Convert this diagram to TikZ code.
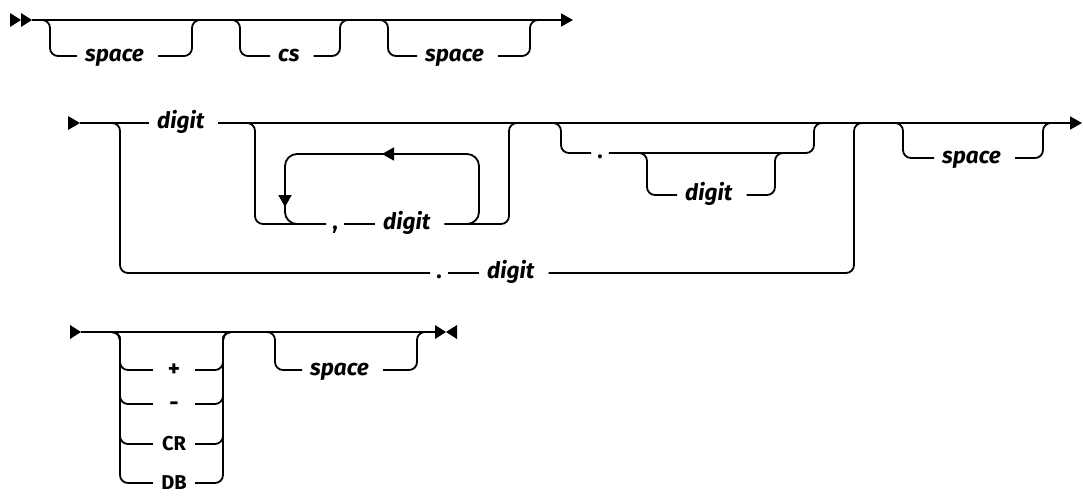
\documentclass[tikz,border=0pt]{standalone}
\usepackage{fontspec}
\setmainfont{Fira Sans}
\usetikzlibrary{arrows.meta}
\begin{document}
\begin{tikzpicture}[x=1pt,y=-1pt,
  rail/.style={line width=1.8pt, rounded corners=8pt},
  loopline/.style={line width=1.8pt, rounded corners=12pt},
  endtip/.style={-{Triangle[length=12pt,width=13pt]}},
  lbl/.style={font=\fontsize{22.5}{22.5}\selectfont\bfseries\itshape, inner xsep=8pt, inner ysep=0pt,
    text height=11.9pt, text depth=0pt, anchor=west, execute at end node={\hspace{6pt}}},
  punct/.style={font=\fontsize{22.5}{22.5}\selectfont\bfseries, inner xsep=6pt, inner ysep=0pt,
    text height=11.9pt, text depth=0pt},
  kw/.style={font=\fontsize{20}{20}\selectfont\bfseries, inner xsep=0pt, inner ysep=0pt,
    text height=13.8pt, text depth=0pt, minimum width=42pt},
  sym/.style={kw, font=\fontsize{23}{23}\selectfont\bfseries, text height=12pt},
  tipfill/.style={fill=black}
]
\fill[white] (0,0) rectangle (1083,496);
\useasboundingbox (0,0) rectangle (1083,496);

% ---------- Row 1 ----------
\fill[tipfill] (10,13) -- (21,20) -- (10,27) -- cycle;
\fill[tipfill] (21,13) -- (32,20) -- (21,27) -- cycle;
\coordinate (r1s) at (32,20);
\coordinate (r1e) at (573,20);
\draw[rail,endtip] (r1s) -- (r1e);

\node[lbl] (sp1) at (77,56) {space};
\draw[rail] (38,20) -- (50,20) -- (50,56) -- (sp1.west);
\draw[rail] (sp1.east) -- (192,56) -- (192,20) -- (204,20);

\node[lbl] (cs) at (270,56) {cs};
\draw[rail] (228,20) -- (240,20) -- (240,56) -- (cs.west);
\draw[rail] (cs.east) -- (340,56) -- (340,20) -- (352,20);

\node[lbl] (sp3) at (417,56) {space};
\draw[rail] (376,20) -- (388,20) -- (388,56) -- (sp3.west);
\draw[rail] (sp3.east) -- (530,56) -- (530,20) -- (542,20);

% ---------- Row 2 ----------
\fill[tipfill] (68,116) -- (80,123) -- (68,130) -- cycle;
\coordinate (r2s) at (80,123);
\coordinate (r2e) at (1082,123);
\node[lbl] (dg1) at (149,123) {digit};
\draw[rail] (r2s) -- (dg1.west);
\draw[rail,endtip] (dg1.east) -- (r2e);

% big choice, lower path
\node[punct] (dot2) at (439,273) {.};
\node[lbl] (dg5) at (479,273) {digit};
\draw[rail] (108,123) -- (120,123) -- (120,273) -- (dot2.west);
\draw[rail] (dot2.east) -- (dg5.west);
\draw[rail] (dg5.east) -- (854,273) -- (854,123) -- (866,123);

% optional repeat group
\node[punct] (cm) at (335,224) {,};
\node[lbl] (dg2) at (375,224) {digit};
\draw[rail] (243,123) -- (255,123) -- (255,224) -- (cm.west);
\draw[rail] (cm.east) -- (dg2.west);
\draw[rail] (dg2.east) -- (509,224) -- (509,123) -- (521,123);
\draw[loopline] (455,224) -- (479,224) -- (479,154) -- (285,154) -- (285,224) -- (309,224);
\draw[line width=1.8pt,endtip] (420,154) -- (382,154);
\draw[line width=1.8pt,endtip] (285,175) -- (285,207);

% optional decimal group
\node[punct] (dot1) at (600,153) {.};
\draw[rail] (549,123) -- (561,123) -- (561,153) -- (dot1.west);
\draw[rail] (dot1.east) -- (814,153) -- (814,123) -- (826,123);
\node[lbl] (dg4) at (677,195) {digit};
\draw[rail] (635,153) -- (647,153) -- (647,195) -- (dg4.west);
\draw[rail] (dg4.east) -- (775,195) -- (775,153) -- (787,153);

% optional space
\node[lbl] (sp4) at (934,158) {space};
\draw[rail] (891,123) -- (903,123) -- (903,158) -- (sp4.west);
\draw[rail] (sp4.east) -- (1043,158) -- (1043,123) -- (1055,123);

% ---------- Row 3 ----------
\fill[tipfill] (70,325) -- (81,332) -- (70,339) -- cycle;
\coordinate (r3s) at (81,332);
\coordinate (r3e) at (435,332);
\draw[rail] (r3s) -- (r3e);
\fill[tipfill] (435,325) -- (446,332) -- (435,339) -- cycle;
\fill[tipfill] (457,325) -- (446,332) -- (457,339) -- cycle;

\foreach \n/\t/\y/\st in {pl/+/370/sym, mi/-/404/sym, cr/CR/444/kw, db/DB/483/kw}{
  \node[\st] (\n) at (174,\y) {\t};
  \draw[rail] (108,332) -- (120,332) -- (120,\y) -- (\n.west);
  \draw[rail] (\n.east) -- (223,\y) -- (223,332) -- (235,332);
}

\node[lbl] (sp5) at (302,370) {space};
\draw[rail] (263,332) -- (275,332) -- (275,370) -- (sp5.west);
\draw[rail] (sp5.east) -- (417,370) -- (417,332) -- (429,332);
\end{tikzpicture}
\end{document}
